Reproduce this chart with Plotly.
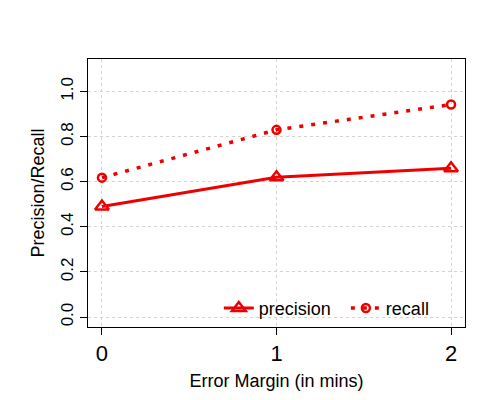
import plotly.graph_objects as go

x_vals = [0, 1, 2]
precision = [0.49, 0.62, 0.66]
recall = [0.618, 0.83, 0.942]
series_names = ["precision\u00a0\u00a0", "recall"]
x_ticks = [0, 1, 2]
y_ticks = [0.0, 0.2, 0.4, 0.6, 0.8, 1.0]
y_ticklabels = ["0.0", "0.2", "0.4", "0.6", "0.8", "1.0"]

FONT = "Liberation Sans, Arial, sans-serif"

fig = go.Figure()
fig.add_trace(go.Scatter(
    x=x_vals, y=precision, name=series_names[0], mode="lines+markers",
    line=dict(color="#ee0000", width=3),
    marker=dict(symbol="triangle-up-open", size=12, color="#ee0000",
                line=dict(width=2.5, color="#ee0000")),
))
fig.add_trace(go.Scatter(
    x=x_vals, y=recall, name=series_names[1], mode="lines+markers",
    line=dict(color="#ee0000", width=3.5, dash="4px,8px"),
    marker=dict(symbol="circle-open", size=8, color="#ee0000",
                line=dict(width=2.5, color="#ee0000")),
))

axis_common = dict(
    showline=True, mirror=True, linecolor="black", linewidth=1,
    ticks="outside", ticklen=7, tickcolor="black", tickwidth=1,
    showgrid=True, gridcolor="#d3d3d3", griddash="dot", gridwidth=1,
    zeroline=False,
)

fig.update_layout(
    width=480, height=400,
    margin=dict(l=88, r=15, t=59, b=73),
    paper_bgcolor="white", plot_bgcolor="white",
    font=dict(family=FONT, color="black"),
    showlegend=True,
    legend=dict(
        orientation="h", x=0.347, xanchor="left", y=0.07, yanchor="middle",
        bgcolor="rgba(0,0,0,0)", borderwidth=0,
        font=dict(size=18, family=FONT, color="black"),
    ),
    xaxis=dict(
        range=[-0.08, 2.08], tickvals=x_ticks, ticktext=[str(v) for v in x_ticks],
        tickfont=dict(size=22, family=FONT),
        title=dict(text="Error Margin (in mins)", font=dict(size=18, family=FONT), standoff=8),
        **axis_common,
    ),
    yaxis=dict(
        range=[-0.044, 1.144], tickvals=y_ticks, ticktext=y_ticklabels,
        tickangle=-90, tickfont=dict(size=17, family=FONT),
        title=dict(text="Precision/Recall", font=dict(size=18, family=FONT), standoff=8),
        **axis_common,
    ),
)

fig.write_html("out.html")
